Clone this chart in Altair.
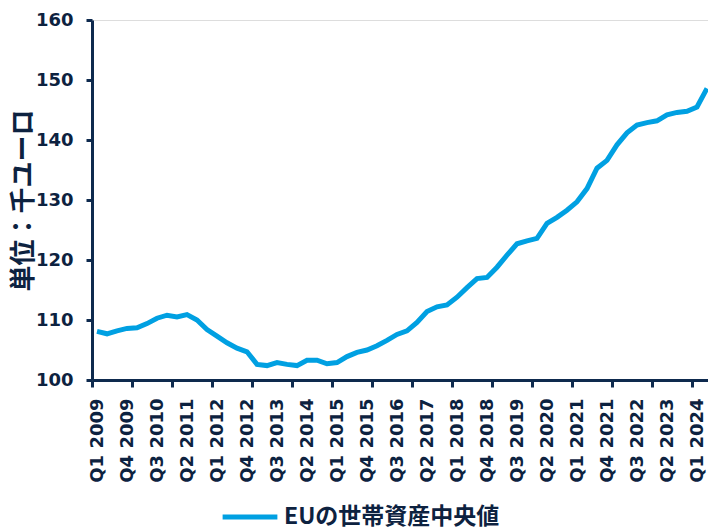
import json
import altair as alt
import pandas as pd

quarters = [
    "Q1 2009", "Q2 2009", "Q3 2009", "Q4 2009",
    "Q1 2010", "Q2 2010", "Q3 2010", "Q4 2010",
    "Q1 2011", "Q2 2011", "Q3 2011", "Q4 2011",
    "Q1 2012", "Q2 2012", "Q3 2012", "Q4 2012",
    "Q1 2013", "Q2 2013", "Q3 2013", "Q4 2013",
    "Q1 2014", "Q2 2014", "Q3 2014", "Q4 2014",
    "Q1 2015", "Q2 2015", "Q3 2015", "Q4 2015",
    "Q1 2016", "Q2 2016", "Q3 2016", "Q4 2016",
    "Q1 2017", "Q2 2017", "Q3 2017", "Q4 2017",
    "Q1 2018", "Q2 2018", "Q3 2018", "Q4 2018",
    "Q1 2019", "Q2 2019", "Q3 2019", "Q4 2019",
    "Q1 2020", "Q2 2020", "Q3 2020", "Q4 2020",
    "Q1 2021", "Q2 2021", "Q3 2021", "Q4 2021",
    "Q1 2022", "Q2 2022", "Q3 2022", "Q4 2022",
    "Q1 2023", "Q2 2023", "Q3 2023", "Q4 2023",
    "Q1 2024", "Q2 2024",
]
median_wealth = [
    108.1, 107.7, 108.2, 108.6, 108.7, 109.4, 110.3, 110.8,
    110.5, 110.9, 110.0, 108.4, 107.3, 106.2, 105.3, 104.7,
    102.6, 102.4, 102.9, 102.6, 102.4, 103.3, 103.3, 102.7,
    102.9, 103.9, 104.6, 105.0, 105.7, 106.6, 107.6, 108.2,
    109.6, 111.4, 112.2, 112.5, 113.8, 115.4, 116.9, 117.1,
    118.8, 120.8, 122.7, 123.2, 123.6, 126.1, 127.1, 128.3,
    129.7, 131.9, 135.3, 136.6, 139.2, 141.2, 142.5, 142.9,
    143.2, 144.2, 144.6, 144.8, 145.5, 148.6,
]
series_name = "EUの世帯資産中央値"
y_title = "単位：千ユーロ"
y_ticks = [100, 110, 120, 130, 140, 150, 160]

NAVY = "#0d2240"
AXIS = "#0e2a4e"
BLUE = "#00a0e2"
TICK_FONT = "DejaVu Sans"
CJK_FONT = "Noto Sans CJK JP"

df = pd.DataFrame({
    "idx": list(range(len(quarters))),
    "quarter": quarters,
    "value": median_wealth,
    "series": [series_name] * len(quarters),
})
label_idx = [i for i in range(len(quarters)) if i % 3 == 0]
year_bounds = pd.DataFrame({"b": [i - 0.5 for i in range(len(quarters)) if quarters[i].startswith("Q1")]})

xscale = alt.Scale(domain=[-0.5, 61.1], nice=False, zero=False)
label_expr = json.dumps(quarters, ensure_ascii=False) + "[datum.value]"

line = alt.Chart(df).mark_line(strokeWidth=5).encode(
    x=alt.X("idx:Q", scale=xscale, title=None,
            axis=alt.Axis(orient="bottom", values=label_idx, labelExpr=label_expr,
                          ticks=False, tickSize=0, domain=False, grid=False,
                          labelAngle=-90, labelPadding=18, labelFlush=False,
                          labelOverlap=False, labelFont=TICK_FONT, labelFontSize=18,
                          labelFontWeight="bold", labelColor=NAVY)),
    y=alt.Y("value:Q", scale=alt.Scale(domain=[100, 160], nice=False, zero=False),
            axis=alt.Axis(values=y_ticks, grid=False, title=y_title,
                          titleFont=CJK_FONT, titleFontSize=26, titleFontWeight="bold",
                          titleColor=NAVY, titleAngle=-90, titleX=-69, titleY=180,
                          titleAlign="center", titleBaseline="middle",
                          domainColor=AXIS, domainWidth=3, tickColor=AXIS,
                          tickWidth=3, tickSize=6, labelPadding=13,
                          labelFont=TICK_FONT, labelFontSize=18, labelFontWeight="bold",
                          labelColor=NAVY)),
    color=alt.Color("series:N", scale=alt.Scale(range=[BLUE]), title=None,
                    legend=alt.Legend(orient="none", legendX=128, legendY=467,
                                      symbolType="stroke", symbolSize=3000,
                                      symbolStrokeWidth=5, symbolStrokeColor=BLUE,
                                      labelFont=CJK_FONT,
                                      labelFontSize=23, labelFontWeight="bold",
                                      labelColor=NAVY, labelOffset=4, padding=0,
                                      labelLimit=400)),
)

ticks = alt.Chart(year_bounds).mark_point(opacity=0).encode(
    x=alt.X("b:Q", scale=xscale, title=None,
            axis=alt.Axis(orient="bottom", values=year_bounds["b"].tolist(), labels=False,
                          ticks=True, tickSize=7, tickWidth=3, tickColor=AXIS,
                          domain=True, domainColor=AXIS, domainWidth=3, grid=False)),
)

chart = alt.layer(line, ticks).resolve_axis(x="independent").properties(
    width=616, height=360,
    autosize=alt.AutoSizeParams(type="none"),
    padding={"left": 92, "top": 20, "right": 0, "bottom": 152},
).configure_view(stroke=None).configure(background="white")

chart.save("out.html", embed_options={"renderer": "svg", "actions": False})
